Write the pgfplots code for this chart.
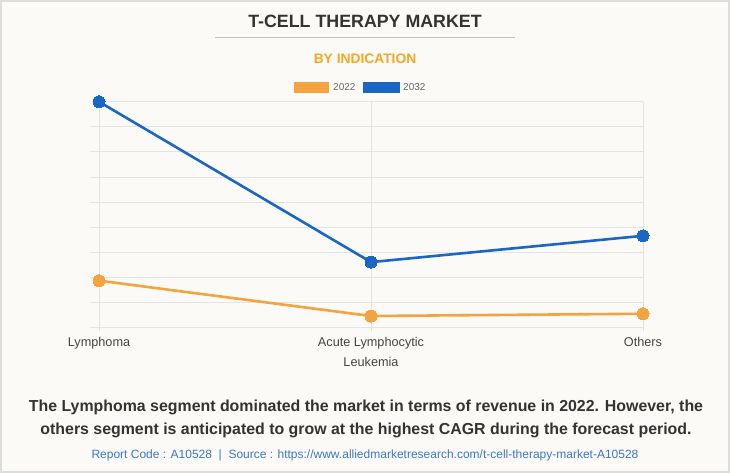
\documentclass[border=0pt]{standalone}
\usepackage{pgfplots}
\pgfplotsset{compat=1.18}
\usepackage{fontspec}
\setmainfont{Liberation Sans}
\definecolor{bg}{HTML}{FBFAF6}
\definecolor{frame}{HTML}{DDDDDD}
\definecolor{titlec}{HTML}{333333}
\definecolor{subc}{HTML}{F6A623}
\definecolor{oran}{HTML}{F3A33F}
\definecolor{blu}{HTML}{1A66C4}
\definecolor{gridc}{HTML}{E3E3E3}
\definecolor{labc}{HTML}{444444}
\definecolor{legc}{HTML}{666666}
\definecolor{footc}{HTML}{3A78C8}
\begin{document}
\begin{tikzpicture}[x=1pt,y=1pt]
\fill[bg] (0,0) rectangle (730,473);
\draw[frame,line width=2pt] (1,1) rectangle (729,472);
\node[font=\fontsize{17.8}{20}\bfseries\selectfont,text=titlec] at (365,452) {T-CELL THERAPY MARKET};
\draw[color=gray!50,line width=0.8pt] (215,436) -- (515,436);
\node[font=\fontsize{13.8}{17}\bfseries\selectfont,text=subc] at (365,414.3) {BY INDICATION};
% legend
\fill[oran] (294,380) rectangle (329,391);
\node[anchor=west,inner sep=0pt,font=\fontsize{10}{12}\selectfont,text=legc] at (333,385.5) {2022};
\fill[blu] (363,380) rectangle (400,391);
\node[anchor=west,inner sep=0pt,font=\fontsize{10}{12}\selectfont,text=legc] at (403,385.5) {2032};
\begin{axis}[
  at={(90pt,145.7pt)}, anchor=south west,
  scale only axis, width=553pt, height=225.6pt,
  xmin=-0.0331, xmax=2, ymin=0, ymax=9,
  axis line style={draw=none},
  xtick={0,1,2},
  xticklabels={Lymphoma,{Acute Lymphocytic\\Leukemia},Others},
  xticklabel style={align=center,text=labc,font=\fontsize{12.7}{19.5}\selectfont,yshift=-2.5pt},
  xtick pos=bottom, tick align=outside,
  x tick style={draw=gridc,line width=0.8pt},
  major tick length=4pt,
  ytick={1,2,3,4,5,6,7,8,9},
  yticklabels={},
  y tick style={draw=none},
  extra y ticks={0},
  extra y tick labels={},
  extra y tick style={grid style={draw=black!22,line width=1pt}},
  grid=major,
  major grid style={draw=gridc,line width=0.8pt},
  clip=false,
]
\addplot[color=oran,line width=2.6pt,mark=*,mark size=6pt,mark options={fill=oran,draw=oran,line width=0pt}]
  coordinates {(0,1.86) (1,0.45) (2,0.54)};
\addplot[color=blu,line width=2.6pt,mark=*,mark size=6pt,mark options={fill=blu,draw=blu,line width=0pt}]
  coordinates {(0,9) (1,2.6) (2,3.65)};
\end{axis}
\node[font=\fontsize{15.9}{18}\bfseries\selectfont,text=titlec] at (366,66) {The Lymphoma segment dominated the market in terms of revenue in 2022. However, the};
\node[font=\fontsize{15.9}{18}\bfseries\selectfont,text=titlec] at (366,43) {others segment is anticipated to grow at the highest CAGR during the forecast period.};
\node[font=\fontsize{12}{14}\selectfont,text=footc] at (365,18) {Report Code : A10528\ \ |\ \ Source : https://www.alliedmarketresearch.com/t-cell-therapy-market-A10528};
\end{tikzpicture}
\end{document}
